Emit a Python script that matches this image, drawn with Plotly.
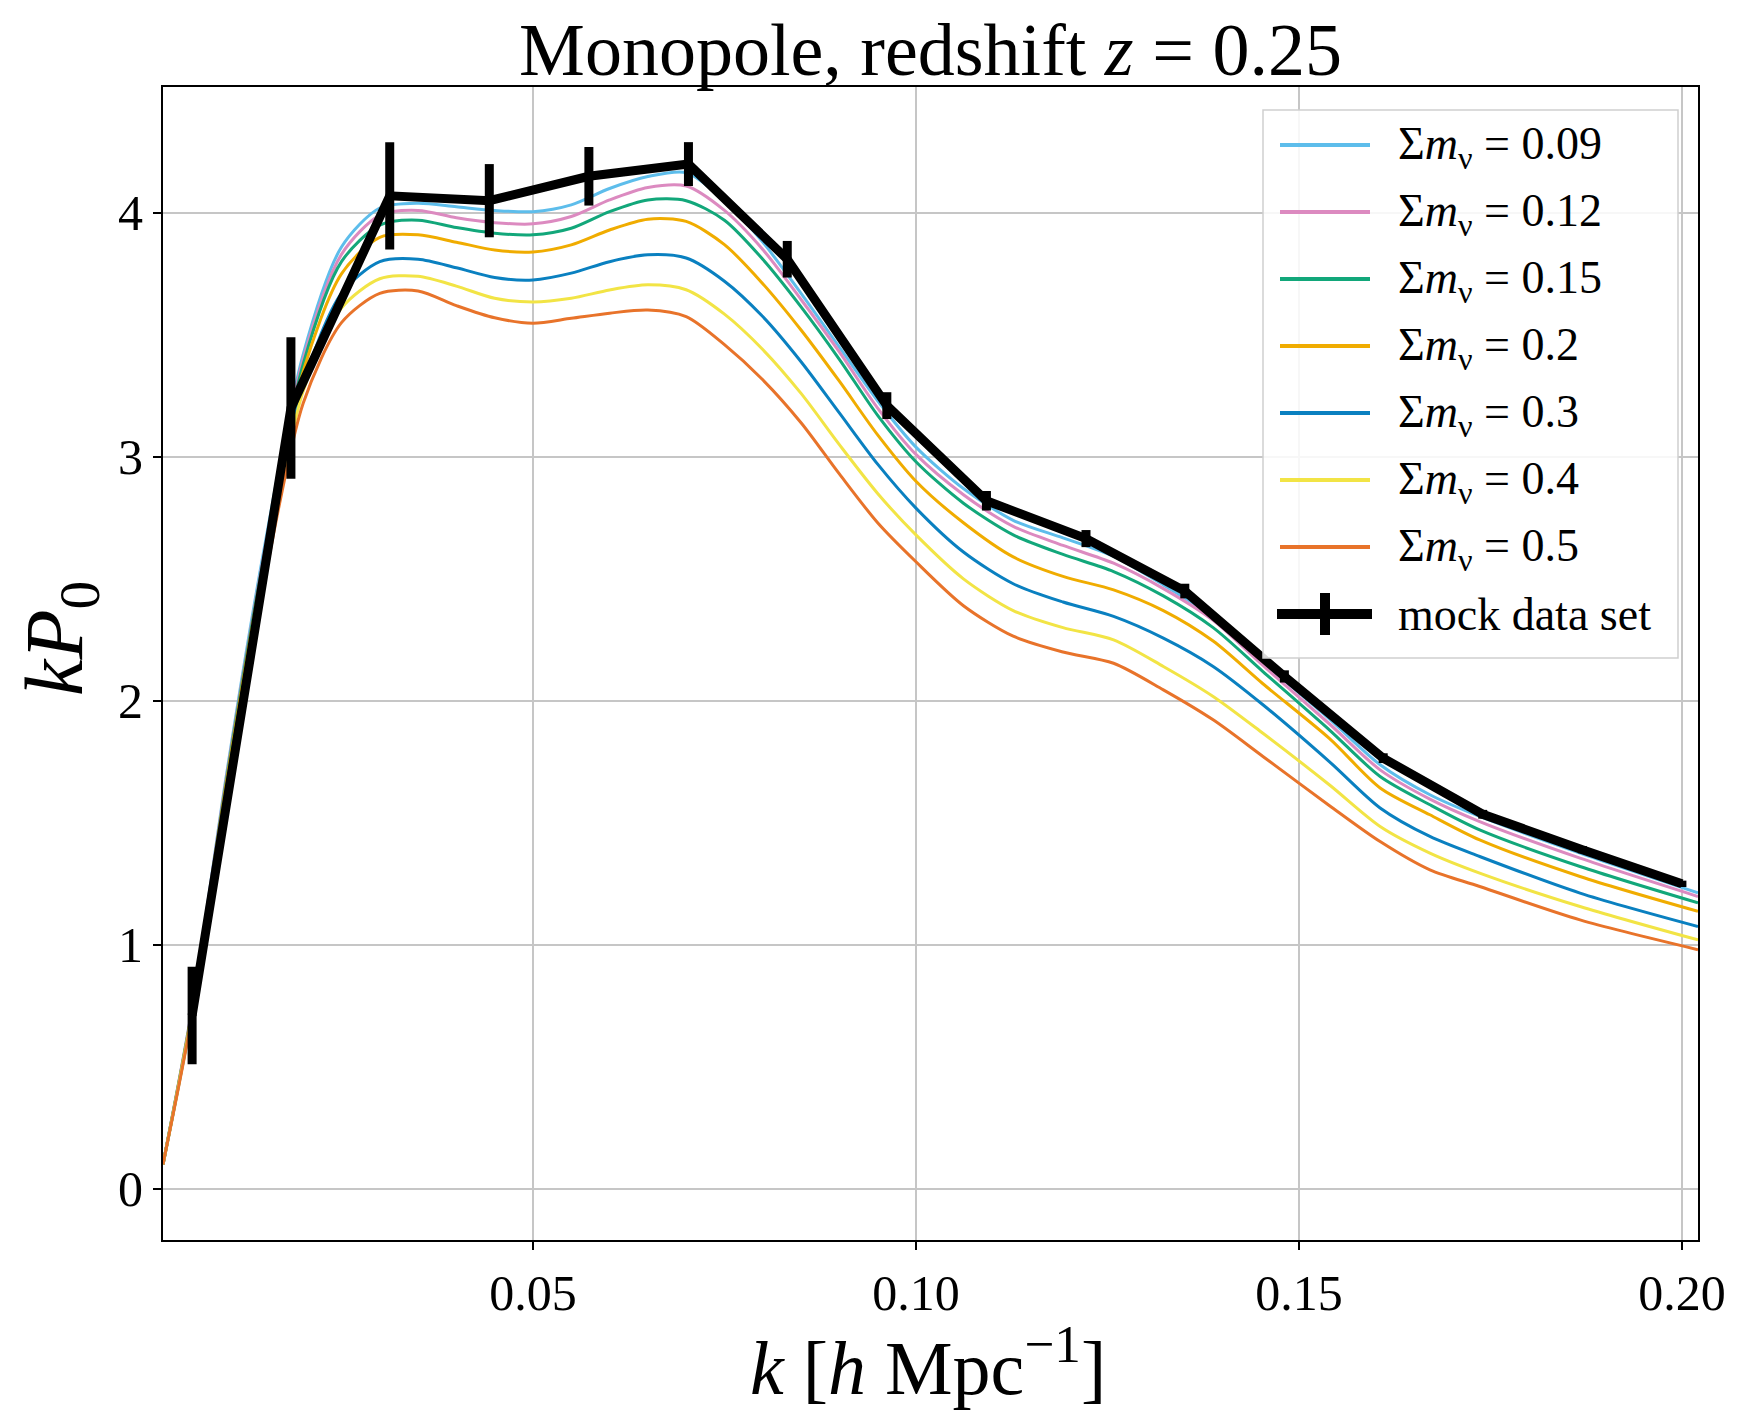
import plotly.graph_objects as go

# ---------------- data ----------------
k_theory = [0.0017, 0.0055, 0.010, 0.015, 0.020, 0.025, 0.030, 0.035, 0.040, 0.045,
            0.050, 0.055, 0.060, 0.065, 0.070, 0.075, 0.080, 0.085, 0.090, 0.095,
            0.100, 0.1062, 0.1127, 0.1192, 0.1258, 0.1323, 0.1388, 0.1453, 0.154,
            0.1606, 0.1671, 0.1736, 0.1867, 0.2021]

kp0_009 = [0.10, 0.74, 1.70, 2.64, 3.42, 3.86, 4.02, 4.04, 4.025, 4.01,
           4.005, 4.033, 4.10, 4.149, 4.165, 4.05, 3.88, 3.67, 3.45, 3.23,
           3.04, 2.87, 2.74, 2.668, 2.592, 2.475, 2.345, 2.16, 1.925,
           1.738, 1.615, 1.526, 1.376, 1.213]
kp0_012 = [0.10, 0.74, 1.69, 2.62, 3.40, 3.83, 3.99, 4.01, 3.98, 3.96,
           3.955, 3.985, 4.053, 4.104, 4.11, 4.01, 3.85, 3.645, 3.43, 3.20,
           3.01, 2.845, 2.715, 2.637, 2.564, 2.46, 2.33, 2.145, 1.905,
           1.717, 1.597, 1.505, 1.355, 1.198]
kp0_015 = [0.10, 0.73, 1.68, 2.61, 3.38, 3.80, 3.95, 3.97, 3.94, 3.917,
           3.91, 3.937, 4.005, 4.053, 4.05, 3.97, 3.81, 3.615, 3.40, 3.17,
           2.98, 2.81, 2.68, 2.60, 2.53, 2.43, 2.30, 2.12, 1.88,
           1.69, 1.574, 1.471, 1.321, 1.172]
kp0_020 = [0.10, 0.73, 1.67, 2.59, 3.35, 3.75, 3.90, 3.91, 3.88, 3.848,
           3.84, 3.869, 3.93, 3.974, 3.965, 3.87, 3.71, 3.52, 3.31, 3.09,
           2.90, 2.73, 2.59, 2.51, 2.455, 2.37, 2.245, 2.07, 1.845,
           1.643, 1.533, 1.43, 1.28, 1.137]
kp0_030 = [0.10, 0.72, 1.65, 2.56, 3.30, 3.67, 3.80, 3.81, 3.775, 3.735,
           3.725, 3.753, 3.80, 3.828, 3.815, 3.72, 3.575, 3.39, 3.18, 2.97,
           2.79, 2.61, 2.48, 2.405, 2.346, 2.257, 2.141, 1.984, 1.75,
           1.561, 1.444, 1.362, 1.212, 1.075]
kp0_040 = [0.10, 0.72, 1.64, 2.53, 3.27, 3.61, 3.73, 3.74, 3.70, 3.65,
           3.635, 3.65, 3.684, 3.705, 3.685, 3.585, 3.44, 3.26, 3.05, 2.85,
           2.68, 2.50, 2.37, 2.30, 2.25, 2.141, 2.018, 1.867, 1.655,
           1.485, 1.376, 1.294, 1.157, 1.02]
kp0_050 = [0.10, 0.71, 1.62, 2.50, 3.22, 3.55, 3.67, 3.68, 3.62, 3.57,
           3.548, 3.568, 3.589, 3.602, 3.575, 3.46, 3.316, 3.14, 2.93, 2.73,
           2.57, 2.39, 2.265, 2.20, 2.154, 2.045, 1.922, 1.772, 1.57,
           1.423, 1.307, 1.239, 1.102, 0.98]

series_values = [kp0_009, kp0_012, kp0_015, kp0_020, kp0_030, kp0_040, kp0_050]
series_labels = ["0.09", "0.12", "0.15", "0.2", "0.3", "0.4", "0.5"]
series_colors = ["#5DBDEB", "#DC8AC0", "#12A77A", "#F0AC00", "#0A80C0", "#F2E445", "#E8732A"]

k_data = [0.0055, 0.0184, 0.0313, 0.0443, 0.0573, 0.0703, 0.0832, 0.0962,
          0.1092, 0.1222, 0.1351, 0.1481, 0.1610, 0.1740, 0.1870, 0.2000]
kp0_data = [0.71, 3.20, 4.07, 4.05, 4.15, 4.20, 3.81, 3.21,
            2.82, 2.665, 2.45, 2.10, 1.765, 1.535, 1.39, 1.25]
kp0_err = [0.20, 0.29, 0.22, 0.15, 0.12, 0.09, 0.075, 0.055,
           0.04, 0.035, 0.03, 0.025, 0.02, 0.018, 0.015, 0.013]
data_label = "mock data set"

x_tickvals = [0.05, 0.10, 0.15, 0.20]
x_ticktext = ["0.05", "0.10", "0.15", "0.20"]
y_tickvals = [0, 1, 2, 3, 4]
y_ticktext = ["0", "1", "2", "3", "4"]

FONT = "Liberation Serif"

fig = go.Figure()
for vals, col in zip(series_values, series_colors):
    fig.add_trace(go.Scatter(x=k_theory, y=vals, mode="lines",
                             line=dict(color=col, width=3, shape="spline", smoothing=0.8),
                             showlegend=False, hoverinfo="skip"))

fig.add_trace(go.Scatter(x=k_data, y=kp0_data, mode="lines",
                         line=dict(color="black", width=9),
                         error_y=dict(type="data", array=kp0_err, visible=True,
                                      color="black", thickness=9, width=0),
                         showlegend=False))

# ---------------- layout ----------------
# page has an 8px body margin, so the figure is made 8px smaller
OFF = 8
W, H = 1742 - OFF, 1421 - OFF
# plot area in page pixels
PL, PR, PT, PB = 163, 1698, 87, 1240
L, T = PL - OFF, PT - OFF
R, B = W - (PR - OFF), H - (PB - OFF)
pw, ph = PR - PL, PB - PT

def px(xp):
    return (xp - PL) / pw

def py(yp):
    return (PB - yp) / ph

# custom matplotlib-like legend
shapes = [dict(type="rect", xref="paper", yref="paper",
               x0=px(1263), x1=px(1678), y0=py(658), y1=py(110),
               fillcolor="rgba(255,255,255,0.85)", line=dict(color="#cfcfcf", width=1.5),
               layer="above")]
annotations = []
row0, dy = 145, 67
for i, (lab, col) in enumerate(zip(series_labels, series_colors)):
    yy = row0 + i * dy
    shapes.append(dict(type="line", xref="paper", yref="paper",
                       x0=px(1280), x1=px(1370), y0=py(yy), y1=py(yy),
                       line=dict(color=col, width=4), layer="above"))
    annotations.append(dict(xref="paper", yref="paper", x=px(1396), y=py(yy + 2),
                            xanchor="left", yanchor="middle", showarrow=False,
                            text="Σ<i>m</i><sub>ν</sub> = " + lab,
                            font=dict(family=FONT, size=46, color="black")))
ym = row0 + 7 * dy
shapes.append(dict(type="line", xref="paper", yref="paper",
                   x0=px(1277), x1=px(1372), y0=py(ym), y1=py(ym),
                   line=dict(color="black", width=10), layer="above"))
shapes.append(dict(type="line", xref="paper", yref="paper",
                   x0=px(1325), x1=px(1325), y0=py(ym - 21), y1=py(ym + 21),
                   line=dict(color="black", width=10), layer="above"))
annotations.append(dict(xref="paper", yref="paper", x=px(1396), y=py(ym),
                        xanchor="left", yanchor="middle", showarrow=False,
                        text=data_label, font=dict(family=FONT, size=46, color="black")))

# axis titles
annotations.append(dict(xref="paper", yref="paper", x=px(928), y=py(1362),
                        xanchor="center", yanchor="middle", showarrow=False,
                        text="<i>k</i> [<i>h</i> Mpc<sup>−1</sup>]",
                        font=dict(family=FONT, size=76, color="black")))
annotations.append(dict(xref="paper", yref="paper", x=px(60), y=py(639),
                        xanchor="center", yanchor="middle", showarrow=False, textangle=-90,
                        text="<i>kP</i><sub>0</sub>",
                        font=dict(family=FONT, size=82, color="black")))

fig.update_layout(
    width=W, height=H,
    margin=dict(l=L, r=R, t=T, b=B),
    paper_bgcolor="white", plot_bgcolor="white",
    title=dict(text="Monopole, redshift <i>z</i> = 0.25", xref="paper", x=0.5, xanchor="center",
               yref="container", y=1 - (49 - OFF) / H, yanchor="middle",
               font=dict(family=FONT, size=74, color="black")),
    shapes=shapes, annotations=annotations, showlegend=False,
)
axis_common = dict(showline=True, linecolor="black", linewidth=2, mirror=True,
                   ticks="outside", ticklen=8, tickwidth=2, tickcolor="black",
                   showgrid=True, gridcolor="#c6c6c6", gridwidth=2, zeroline=False,
                   tickfont=dict(family=FONT, size=50, color="black"))
fig.update_xaxes(range=[0.0017, 0.2021], tickvals=x_tickvals, ticktext=x_ticktext, **axis_common)
fig.update_yaxes(range=[-0.21, 4.516], tickvals=y_tickvals, ticktext=y_ticktext, **axis_common)

fig.write_html("out.html")
